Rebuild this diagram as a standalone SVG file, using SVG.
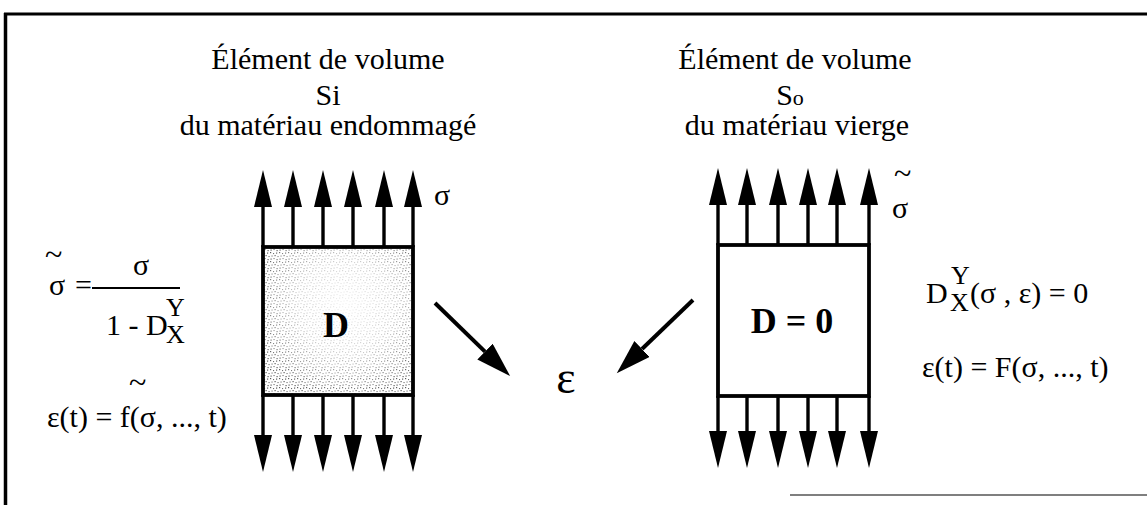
<svg xmlns="http://www.w3.org/2000/svg" width="1147" height="505" viewBox="0 0 1147 505">
  <style>
    text { font-family: "Liberation Serif", "Times New Roman", serif; fill: #000; }
    .title { font-size: 30px; text-anchor: middle; }
    .f { font-size: 30px; }
    .sub { font-size: 26px; }
    .tl { font-size: 32px; }
    .big { font-size: 36px; font-weight: bold; text-anchor: middle; }
    .box { fill: none; stroke: #000; stroke-width: 3.8; }
    .force { stroke: #000; stroke-width: 3.4; fill: none; }
    .conn { stroke: #000; stroke-width: 4; fill: none; }
    .frame { stroke: #000; fill: none; }
  </style>
  <defs>
    <marker id="head" markerUnits="userSpaceOnUse" markerWidth="40" markerHeight="20" refX="0" refY="9" orient="auto" viewBox="0 0 40 20">
      <path d="M0,0 L37,9 L0,18 Z" fill="#000"/>
    </marker>
    <marker id="head2" markerUnits="userSpaceOnUse" markerWidth="40" markerHeight="26" refX="0" refY="11" orient="auto" viewBox="0 0 40 26">
      <path d="M0,0 L35,11 L0,22 Z" fill="#000"/>
    </marker>
    <pattern id="dots" width="9" height="9" patternUnits="userSpaceOnUse">
      <rect x="0" y="0" width="1.2" height="1.2" fill="#444"/>
      <rect x="3" y="1" width="1.1" height="1.1" fill="#555"/>
      <rect x="6" y="0.5" width="1.2" height="1.2" fill="#444"/>
      <rect x="1.5" y="3.5" width="1.1" height="1.1" fill="#555"/>
      <rect x="4.5" y="3" width="1.2" height="1.2" fill="#444"/>
      <rect x="7.5" y="4" width="1.1" height="1.1" fill="#555"/>
      <rect x="0.5" y="6.5" width="1.2" height="1.2" fill="#444"/>
      <rect x="3.5" y="6" width="1.1" height="1.1" fill="#555"/>
      <rect x="6.5" y="7" width="1.2" height="1.2" fill="#444"/>
    </pattern>
    <radialGradient id="fadeGrad" cx="0.55" cy="0.4" r="0.62">
      <stop offset="0" stop-color="#111"/>
      <stop offset="0.5" stop-color="#444"/>
      <stop offset="0.85" stop-color="#aaa"/>
      <stop offset="1" stop-color="#ddd"/>
    </radialGradient>
    <mask id="fade">
      <rect x="263" y="247" width="150" height="148" fill="url(#fadeGrad)"/>
    </mask>
  </defs>

  <!-- frame -->
  <g id="frame">
    <line class="frame" x1="4" y1="14" x2="1147" y2="14" stroke-width="3"/>
    <line class="frame" x1="5.5" y1="13" x2="5.5" y2="505" stroke-width="3.5"/>
    <line class="frame" x1="790" y1="495" x2="1147" y2="495" stroke-width="1.2" stroke="#aaa"/>
  </g>

  <!-- left element -->
  <g id="left-element">
    <text class="title" x="328" y="69">Élément de volume</text>
    <text class="title" x="328" y="105">Si</text>
    <text class="title" x="328" y="135">du matériau endommagé</text>
    <rect x="263" y="247" width="150" height="148" fill="url(#dots)" mask="url(#fade)"/>
    <rect class="box" x="263" y="247" width="150" height="148"/>
    <text class="big" x="336" y="337">D</text>
    <g class="force" marker-end="url(#head)">
      <line x1="263" y1="247" x2="263" y2="207"/>
      <line x1="293" y1="247" x2="293" y2="207"/>
      <line x1="323" y1="247" x2="323" y2="207"/>
      <line x1="353" y1="247" x2="353" y2="207"/>
      <line x1="384" y1="247" x2="384" y2="207"/>
      <line x1="413" y1="247" x2="413" y2="207"/>
      <line x1="263" y1="395" x2="263" y2="435"/>
      <line x1="293" y1="395" x2="293" y2="435"/>
      <line x1="323" y1="395" x2="323" y2="435"/>
      <line x1="353" y1="395" x2="353" y2="435"/>
      <line x1="384" y1="395" x2="384" y2="435"/>
      <line x1="413" y1="395" x2="413" y2="435"/>
    </g>
    <text class="f" x="434" y="205">σ</text>
  </g>

  <!-- right element -->
  <g id="right-element">
    <text class="title" x="795" y="69">Élément de volume</text>
    <text class="title" x="790" y="105">S<tspan font-size="22">o</tspan></text>
    <text class="title" x="797" y="135">du matériau vierge</text>
    <rect class="box" x="718" y="245" width="151" height="151" fill="#fff"/>
    <text class="big" x="792" y="333">D = 0</text>
    <g class="force" marker-end="url(#head)">
      <line x1="718" y1="245" x2="718" y2="205"/>
      <line x1="747" y1="245" x2="747" y2="205"/>
      <line x1="778" y1="245" x2="778" y2="205"/>
      <line x1="808" y1="245" x2="808" y2="205"/>
      <line x1="837" y1="245" x2="837" y2="205"/>
      <line x1="869" y1="245" x2="869" y2="205"/>
      <line x1="718" y1="396" x2="718" y2="431"/>
      <line x1="747" y1="396" x2="747" y2="431"/>
      <line x1="778" y1="396" x2="778" y2="431"/>
      <line x1="808" y1="396" x2="808" y2="431"/>
      <line x1="837" y1="396" x2="837" y2="431"/>
      <line x1="869" y1="396" x2="869" y2="431"/>
    </g>
    <text class="f"><tspan class="tl" x="894" y="184">~</tspan><tspan x="892" y="218">σ</tspan></text>
  </g>

  <!-- left formulas -->
  <g id="left-formulas">
    <text class="f"><tspan class="tl" x="45" y="265">~</tspan><tspan x="49" y="295">σ</tspan><tspan x="75" y="295">=</tspan></text>
    <line x1="92" y1="288" x2="180" y2="288" stroke="#000" stroke-width="2"/>
    <text class="f" x="133" y="275">σ</text>
    <text class="f"><tspan x="106" y="335">1 - D</tspan><tspan class="sub" x="166" y="316">Y</tspan><tspan class="sub" x="166" y="343">X</tspan></text>
    <text class="f"><tspan class="tl" x="129" y="393">~</tspan><tspan x="47" y="427">ε(t) = f(σ, ..., t)</tspan></text>
  </g>

  <!-- right formulas -->
  <g id="right-formulas">
    <text class="f"><tspan x="926" y="303">D</tspan><tspan class="sub" font-size="24" x="951" y="284">Y</tspan><tspan class="sub" font-size="24" x="950" y="311">X</tspan><tspan x="970" y="303">(σ , ε) = 0</tspan></text>
    <text class="f" x="922" y="377">ε(t) = F(σ, ..., t)</text>
  </g>

  <!-- epsilon -->
  <g id="epsilon">
    <text x="566" y="393" font-size="46" text-anchor="middle">ε</text>
  </g>

  <!-- connectors -->
  <g id="connectors" class="conn">
    <line x1="435" y1="303" x2="485" y2="351.6" marker-end="url(#head2)"/>
    <line x1="693" y1="300" x2="642" y2="349" marker-end="url(#head2)"/>
  </g>
</svg>
